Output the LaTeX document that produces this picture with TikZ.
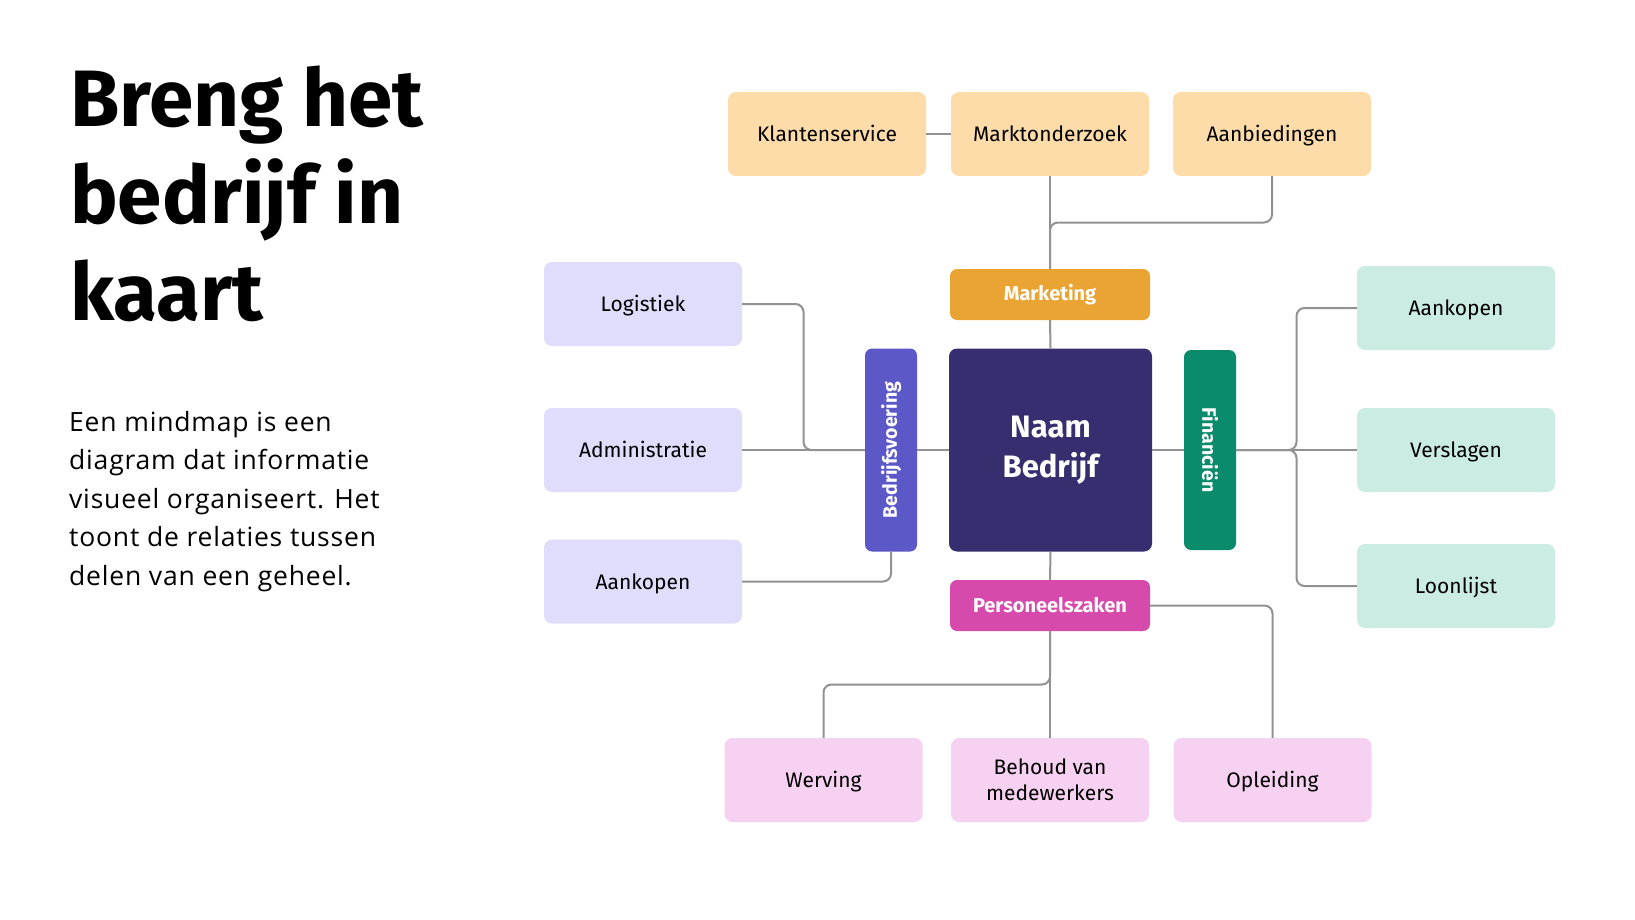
\documentclass[tikz,border=0pt]{standalone}
\usepackage{fontspec}
\setmainfont{Fira Sans}
\newfontfamily\bodyfont[LetterSpace=3]{Open Sans}
\usepackage{graphicx}
\usetikzlibrary{calc}
\definecolor{orangelt}{HTML}{FDDCA9}
\definecolor{orangedk}{HTML}{E9A434}
\definecolor{lavlt}{HTML}{E0DCFB}
\definecolor{lavdk}{HTML}{5C58C7}
\definecolor{navy}{HTML}{372E6F}
\definecolor{mintlt}{HTML}{CAECE3}
\definecolor{greendk}{HTML}{0A8B6B}
\definecolor{pinklt}{HTML}{F7D1F1}
\definecolor{pinkdk}{HTML}{D64AAB}
\definecolor{linegrey}{HTML}{929292}

\begin{document}
\begin{tikzpicture}[x=1pt, y=-1pt,
  box/.style={rounded corners=8pt, inner sep=0pt, minimum width=198pt, minimum height=84pt, align=center, font=\fontsize{21}{26}\selectfont},
  oneline/.style={text height=15.5pt, text depth=0.5pt},
  head/.style={rounded corners=7pt, inner sep=0pt, minimum width=200pt, minimum height=51pt, text=white, font=\bfseries\fontsize{20}{24}\selectfont},
  side/.style={rounded corners=7pt, inner sep=0pt, minimum width=52pt, minimum height=203pt, text=white, font=\bfseries\fontsize{19.5}{22}\selectfont},
  link/.style={draw=linegrey, line width=2pt, rounded corners=8pt}]
\fill[white] (0,0) rectangle (1635,920);
\useasboundingbox (0,0) rectangle (1635,920);

\node[anchor=north west, inner sep=0pt, align=left, font=\bfseries\fontsize{80}{97}\selectfont] (title) at (70,66) {Breng het\\bedrijf in\\kaart};
\node[anchor=north west, inner sep=0pt, align=left, font=\bodyfont\fontsize{26.5}{38.5}\selectfont] (intro) at (69,411) {Een mindmap is een\\diagram dat informatie\\visueel organiseert. Het\\toont de relaties tussen\\delen van een geheel.};

\node[box, oneline, fill=orangelt] (klant) at (827,134) {Klantenservice};
\node[box, oneline, fill=orangelt] (markt) at (1050,134) {Marktonderzoek};
\node[box, oneline, fill=orangelt] (aanb) at (1272,134) {Aanbiedingen};
\node[head, fill=orangedk] (mark) at (1050,294.5) {Marketing};

\node[box, oneline, fill=lavlt] (logi) at (643,304) {Logistiek};
\node[box, oneline, fill=lavlt] (admin) at (643,450) {Administratie};
\node[box, oneline, fill=lavlt] (aankL) at (643,581.5) {Aankopen};
\node[side, fill=lavdk] (bedr) at (891,450) {\rotatebox{90}{Bedrijfsvoering}};

\node[rounded corners=8pt, inner sep=0pt, fill=navy, minimum size=203pt, text=white, align=center, font=\bfseries\fontsize{31}{40.6}\selectfont] (naam) at (1050.5,450) {Naam\\Bedrijf};

\node[side, fill=greendk, minimum height=200pt] (fin) at (1210,450) {\rotatebox{-90}{Financiën}};
\node[box, oneline, fill=mintlt] (aankR) at (1456,308) {Aankopen};
\node[box, oneline, fill=mintlt] (versl) at (1456,450) {Verslagen};
\node[box, oneline, fill=mintlt] (loon) at (1456,586) {Loonlijst};

\node[head, fill=pinkdk] (pers) at (1050,605.5) {Personeelszaken};
\node[box, oneline, fill=pinklt] (werv) at (823.5,780) {Werving};
\node[box, fill=pinklt] (behoud) at (1050,780) {Behoud van\\medewerkers};
\node[box, oneline, fill=pinklt] (opl) at (1272.5,780) {Opleiding};

\draw[link] (klant.east) -- (markt.west);
\draw[link] (markt.south) -- (mark.north);
\draw[link] (aanb.south) |- ($(markt.south)!.5!(mark.north)$) -- (mark.north);
\draw[link] (mark.south) -- (naam.north);

\draw[link] (logi.east) -| ($(admin.east)!.5!(bedr.west)$) -- (bedr.west);
\draw[link] (admin.east) -- (bedr.west);
\draw[link] (aankL.east) -| (bedr.south);
\draw[link] (bedr.east) -- (naam.west);

\draw[link] (naam.east) -- (fin.west);
\draw[link] (fin.east) -- (versl.west);
\draw[link] (fin.east) -- ($(fin.east)!.5!(versl.west)$) |- (aankR.west);
\draw[link] (fin.east) -- ($(fin.east)!.5!(versl.west)$) |- (loon.west);

\draw[link] (naam.south) -- (pers.north);
\draw[link] (pers.east) -| (opl.north);
\draw[link] (pers.south) -- (behoud.north);
\draw[link] (pers.south) -- ($(pers.south)!.5!(behoud.north)$) -| (werv.north);
\end{tikzpicture}
\end{document}
